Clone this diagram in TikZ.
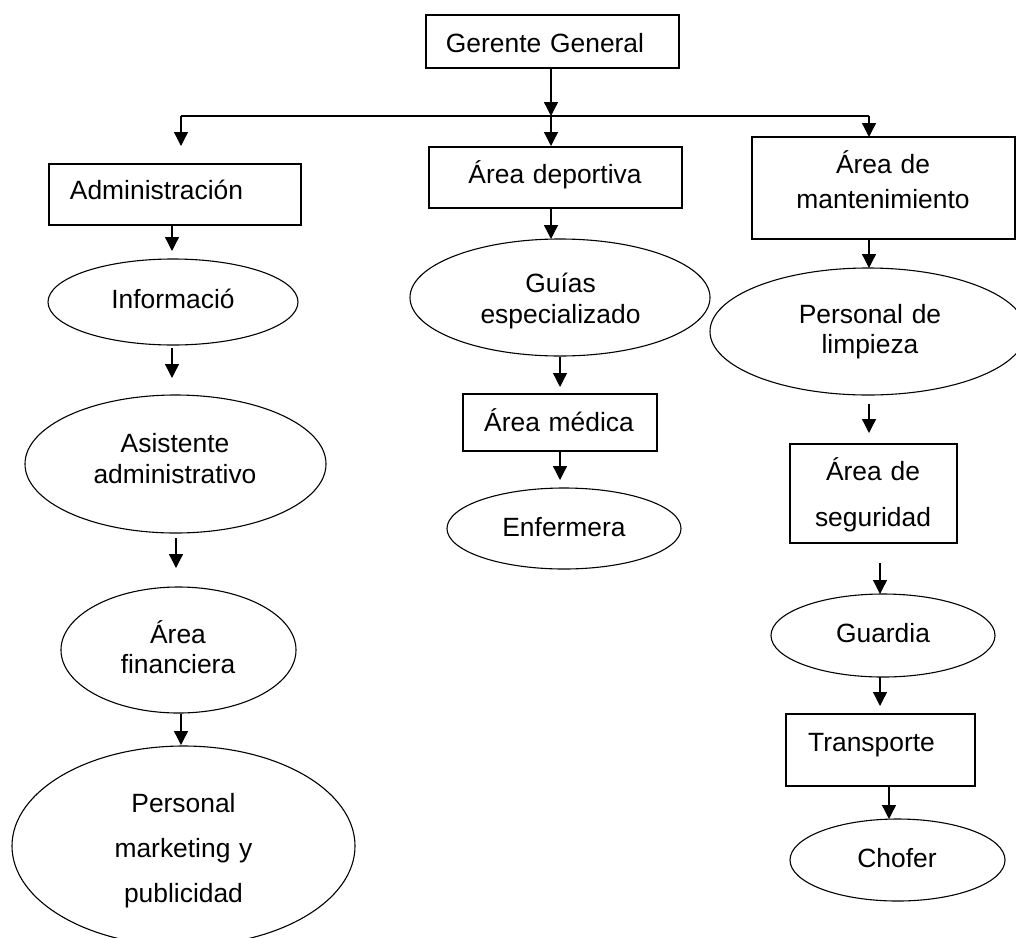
\documentclass[tikz,border=0pt]{standalone}
\usepackage{fontspec}
\setmainfont{Liberation Sans}
\usetikzlibrary{shapes.geometric,arrows.meta}
\tikzset{
  box/.style={draw, rectangle, line width=1.4pt, inner sep=0pt, outer sep=0pt},
  ell/.style={draw, ellipse, line width=1.1pt, inner sep=0pt, outer sep=0pt},
  txt/.style={text width=330pt, align=center, anchor=base, inner sep=0pt,
    font=\fontsize{26.4pt}{32pt}\selectfont},
  ls/.style={font=\fontsize{26.4pt}{#1}\selectfont},
  conn/.style={line width=1.3pt},
  arr/.style={line width=1.3pt, -{Triangle[width=14pt,length=14pt]}}
}
\begin{document}
\begin{tikzpicture}[x=1pt,y=-1pt]
\useasboundingbox (0,0) rectangle (1016,937);
\fill[white] (0,0) rectangle (1016,937);

% boxes
\node[box, minimum width=253pt, minimum height=53pt] (gg) at (552.5,41.5) {};
\node[box, minimum width=252pt, minimum height=61pt] (adm) at (175,194.5) {};
\node[box, minimum width=253pt, minimum height=61pt] (dep) at (555.5,177.5) {};
\node[box, minimum width=194pt, minimum height=57pt] (med) at (560,422.5) {};
\node[box, minimum width=263pt, minimum height=102pt] (mant) at (883.5,188) {};
\node[box, minimum width=167pt, minimum height=99pt] (seg) at (873.5,493.5) {};
\node[box, minimum width=189pt, minimum height=72pt] (trans) at (880.5,750) {};

% ellipses
\node[ell, minimum width=250pt, minimum height=86pt] (inf) at (173,302) {};
\node[ell, minimum width=301pt, minimum height=138pt] (asis) at (175.5,464) {};
\node[ell, minimum width=235pt, minimum height=126pt] (fin) at (178.5,650) {};
\node[ell, minimum width=343pt, minimum height=200pt] (mkt) at (183.5,846) {};
\node[ell, minimum width=300pt, minimum height=117pt] (guias) at (560,297.5) {};
\node[ell, minimum width=234pt, minimum height=81pt] (enf) at (564,528.5) {};
\node[ell, minimum width=316pt, minimum height=127pt] (limp) at (868,331.5) {};
\node[ell, minimum width=224pt, minimum height=83pt] (guard) at (883,635.5) {};
\node[ell, minimum width=215pt, minimum height=82pt] (chof) at (897.5,860) {};

% texts
\node[txt] (gg-t) at (545,52) {Gerente General};
\node[txt] (adm-t) at (156.5,199) {Administración};
\node[txt] (dep-t) at (555,183) {Área deportiva};
\node[txt] (med-t) at (559,431) {Área médica};
\node[txt, ls=35pt] (mant-t) at (883,173) {Área de\\mantenimiento};
\node[txt, ls=46pt] (seg-t) at (873,480) {Área de\\seguridad};
\node[txt] (trans-t) at (871.5,751) {Transporte};
\node[txt] (inf-t) at (173,308) {Informació};
\node[txt, ls=31pt] (asis-t) at (175,452) {Asistente\\administrativo};
\node[txt, ls=30pt] (fin-t) at (178,643) {Área\\financiera};
\node[txt, ls=45pt] (mkt-t) at (183.5,812) {Personal\\marketing y\\publicidad};
\node[txt, ls=31pt] (guias-t) at (560.5,292) {Guías\\especializado};
\node[txt] (enf-t) at (564,536) {Enfermera};
\node[txt, ls=30pt] (limp-t) at (870,323) {Personal de\\limpieza};
\node[txt] (guard-t) at (883,642) {Guardia};
\node[txt] (chof-t) at (897,867) {Chofer};

% connector coordinates
\coordinate (j) at (551,116);
\coordinate (jl) at (181,116);
\coordinate (jr) at (869,116);
\coordinate (xa) at (172,0);
\coordinate (xb) at (176,0);
\coordinate (xm) at (560,0);
\coordinate (xr) at (880,0);
\coordinate (xs) at (889,0);

% connectors
\draw[arr] (gg.south -| j) -- (j);
\draw[conn] (jl) -- (jr);
\draw[arr, shorten >=18pt] (jl) -- (jl |- adm.north);
\draw[arr, shorten >=1pt] (j) -- (j |- dep.north);
\draw[arr] (jr) -- (jr |- mant.north);

\draw[arr, shorten >=8pt] (adm.south -| xa) -- (inf.north -| xa);
\draw[arr, shorten <=3pt, shorten >=17pt] (inf.south -| xa) -- (asis.north -| xa);
\draw[arr, shorten <=5pt, shorten >=19pt] (asis.south -| xb) -- (fin.north -| xb);
\draw[arr, shorten <=1pt, shorten >=1pt] (fin.south -| jl) -- (mkt.north -| jl);

\draw[arr] (dep.south -| j) -- (guias.north -| j);
\draw[arr, shorten <=1pt, shorten >=7pt] (guias.south -| xm) -- (med.north -| xm);
\draw[arr, shorten >=8pt] (med.south -| xm) -- (enf.north -| xm);

\draw[arr] (mant.south -| jr) -- (limp.north -| jr);
\draw[arr, shorten <=9pt, shorten >=11pt] (limp.south -| jr) -- (seg.north -| jr);
\draw[arr, shorten <=20pt] (seg.south -| xr) -- (guard.north -| xr);
\draw[arr, shorten >=8pt] (guard.south -| xr) -- (trans.north -| xr);
\draw[arr, shorten <=1pt] (trans.south -| xs) -- (chof.north -| xs);
\end{tikzpicture}
\end{document}
